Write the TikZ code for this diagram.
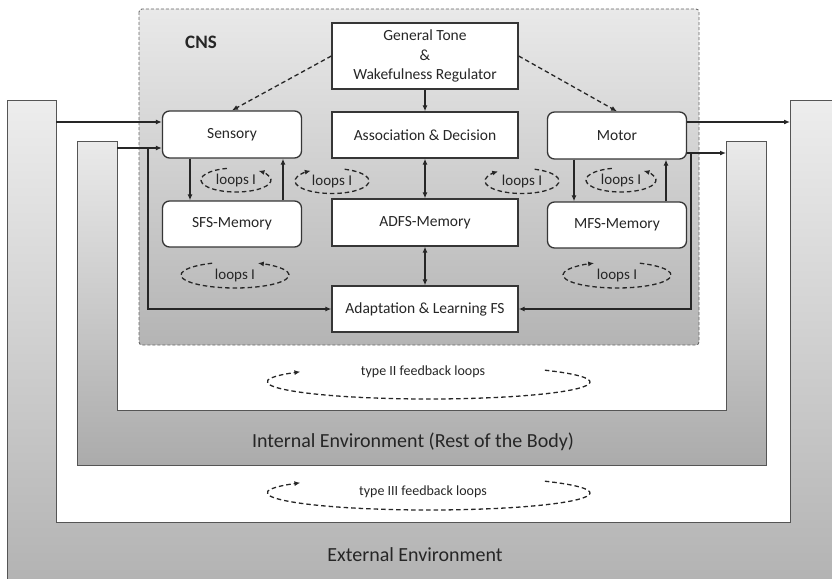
\documentclass[tikz,border=0pt]{standalone}
\usepackage{fontspec}
\setmainfont{Carlito}
\usetikzlibrary{arrows.meta,calc}

\definecolor{inkcol}{HTML}{262626}
\definecolor{boxcol}{HTML}{363636}
\definecolor{envline}{HTML}{555555}
\definecolor{extTop}{HTML}{EDEDED}
\definecolor{extBot}{HTML}{B2B2B2}
\definecolor{intTop}{HTML}{EAEAEA}
\definecolor{intBot}{HTML}{ABABAB}
\definecolor{cnsTop}{HTML}{E9E9E9}
\definecolor{cnsBot}{HTML}{B4B4B4}

\begin{document}
\begin{tikzpicture}[x=1pt,y=-1pt,
  envedge/.style={draw=envline, line width=1pt},
  envlabel/.style={text=inkcol, font=\fontsize{20}{22}\selectfont},
  blk/.style={draw=boxcol, fill=white, line width=1.3pt, inner sep=0pt,
    minimum width=186pt, minimum height=46pt, align=center, text=inkcol,
    font=\fontsize{15.5}{19.5}\selectfont},
  rblk/.style={blk, rounded corners=7pt, minimum width=139pt},
  flow/.style={draw=inkcol, line width=1.3pt, -{Latex[length=6pt,width=5pt]}},
  both/.style={flow, {Latex[length=6pt,width=5pt]}-{Latex[length=6pt,width=5pt]}},
  tone/.style={flow, dashed, dash pattern=on 4.5pt off 3pt},
  looptxt/.style={text=inkcol, inner sep=0pt, font=\fontsize{15}{17}\selectfont},
  bigtxt/.style={text=inkcol, inner sep=0pt, font=\fontsize{14}{16}\selectfont},
  loopln/.style={draw=inkcol, line width=1.3pt, dash pattern=on 4.5pt off 3pt,
    -{Latex[length=6pt,width=5pt]}}
]
\useasboundingbox (0,0) rectangle (832,578);

% external environment (outer U)
\path[envedge, top color=extTop, bottom color=extBot]
  (7,100) -- (56,100) -- (56,522) -- (790,522) -- (790,100) -- (850,100)
  -- (850,590) -- (7,590) -- cycle;
% internal environment (inner U)
\path[envedge, top color=intTop, bottom color=intBot]
  (77,141) -- (117,141) -- (117,410) -- (726,410) -- (726,141) -- (766,141)
  -- (766,465) -- (77,465) -- cycle;

\node[envlabel] (intenv) at (413,442) {Internal Environment (Rest of the Body)};
\node[envlabel] (extenv) at (415,555) {External Environment};

% central nervous system
\path[draw=gray!80!black, line width=0.9pt, dash pattern=on 3pt off 2pt,
  top color=cnsTop, bottom color=cnsBot, rounded corners=3pt]
  (139,9) rectangle (699,345);
\node[text=inkcol, font=\bfseries\fontsize{19}{19}\selectfont] (cns) at (201,42) {CNS};

% functional blocks
\node[blk, minimum height=66pt] (tone) at (425,56)
  {General Tone\\\&\\Wakefulness Regulator};
\node[blk] (assoc) at (425,135) {Association \& Decision};
\node[blk, minimum height=47pt] (adfs) at (425,222.5) {ADFS-Memory};
\node[blk] (adapt) at (425,309) {Adaptation \& Learning FS};
\node[rblk, minimum height=47pt] (sens) at (232,134.5) {Sensory};
\node[rblk] (sfs) at (232,224) {SFS-Memory};
\node[rblk, minimum height=47pt] (motor) at (617,135.5) {Motor};
\node[rblk] (mfs) at (617,225) {MFS-Memory};

% regulator influence
\draw[tone] (tone.west) -- (sens.north);
\draw[tone] (tone.east) -- (motor.north);
\draw[flow] (tone.south) -- (assoc.north);

% inputs from the environments
\coordinate (inA) at (56,122);
\coordinate (inB) at (117,148);
\coordinate (brL) at (148,148);
\draw[flow] (inA) -- (inA -| sens.west);
\draw[flow] (inB) -- (inB -| sens.west);
\draw[flow] (brL) |- (adapt.west);

% outputs to the environments
\coordinate (outA) at (790,122);
\coordinate (outB) at (726,153);
\coordinate (brR) at (691,153);
\draw[flow] (outA -| motor.east) -- (outA);
\draw[flow] (outB -| motor.east) -- (outB);
\draw[flow] (brR) |- (adapt.east);

% vertical links
\draw[flow] ([xshift=-42pt]sens.south) -- ([xshift=-42pt]sfs.north);
\draw[flow] ([xshift=51pt]sfs.north) -- ([xshift=51pt]sens.south);
\draw[flow] ([xshift=-43pt]motor.south) -- ([xshift=-43pt]mfs.north);
\draw[flow] ([xshift=49pt]mfs.north) -- ([xshift=49pt]motor.south);
\draw[both] (assoc.south) -- (adfs.north);
\draw[both] (adfs.south) -- (adapt.north);

% type I loops
\node[looptxt] (la) at (236,180) {loops I};
\node[looptxt] (lb) at (332,181) {loops I};
\node[looptxt] (lc) at (522,181) {loops I};
\node[looptxt] (ld) at (621,180) {loops I};
\node[looptxt] (le) at (235,275) {loops I};
\node[looptxt] (lf) at (617,275) {loops I};
\draw[loopln] ($(la)+(105:35pt and 12pt)$) arc[start angle=105, end angle=410, x radius=35pt, y radius=12pt];
\draw[loopln] ($(lb)+(70:37pt and 12.5pt)$) arc[start angle=70, end angle=-235, x radius=37pt, y radius=12.5pt];
\draw[loopln] ($(lc)+(70:37pt and 12.5pt)$) arc[start angle=70, end angle=-230, x radius=37pt, y radius=12.5pt];
\draw[loopln] ($(ld)+(105:35pt and 12pt)$) arc[start angle=105, end angle=410, x radius=35pt, y radius=12pt];
\draw[loopln] ($(le)+(115:54pt and 13pt)$) arc[start angle=115, end angle=425, x radius=54pt, y radius=13pt];
\draw[loopln] ($(lf)+(65:54pt and 13pt)$) arc[start angle=65, end angle=-245, x radius=54pt, y radius=13pt];

% type II and type III loops
\node[bigtxt] (l2) at (423,372) {type II feedback loops};
\coordinate (c2) at (429,382);
\draw[loopln] ($(c2)+(44:161pt and 17pt)$) arc[start angle=44, end angle=-217, x radius=161pt, y radius=17pt];
\node[bigtxt] (l3) at (423,492) {type III feedback loops};
\coordinate (c3) at (429,493);
\draw[loopln] ($(c3)+(44:161pt and 17pt)$) arc[start angle=44, end angle=-217, x radius=161pt, y radius=17pt];
\end{tikzpicture}
\end{document}
